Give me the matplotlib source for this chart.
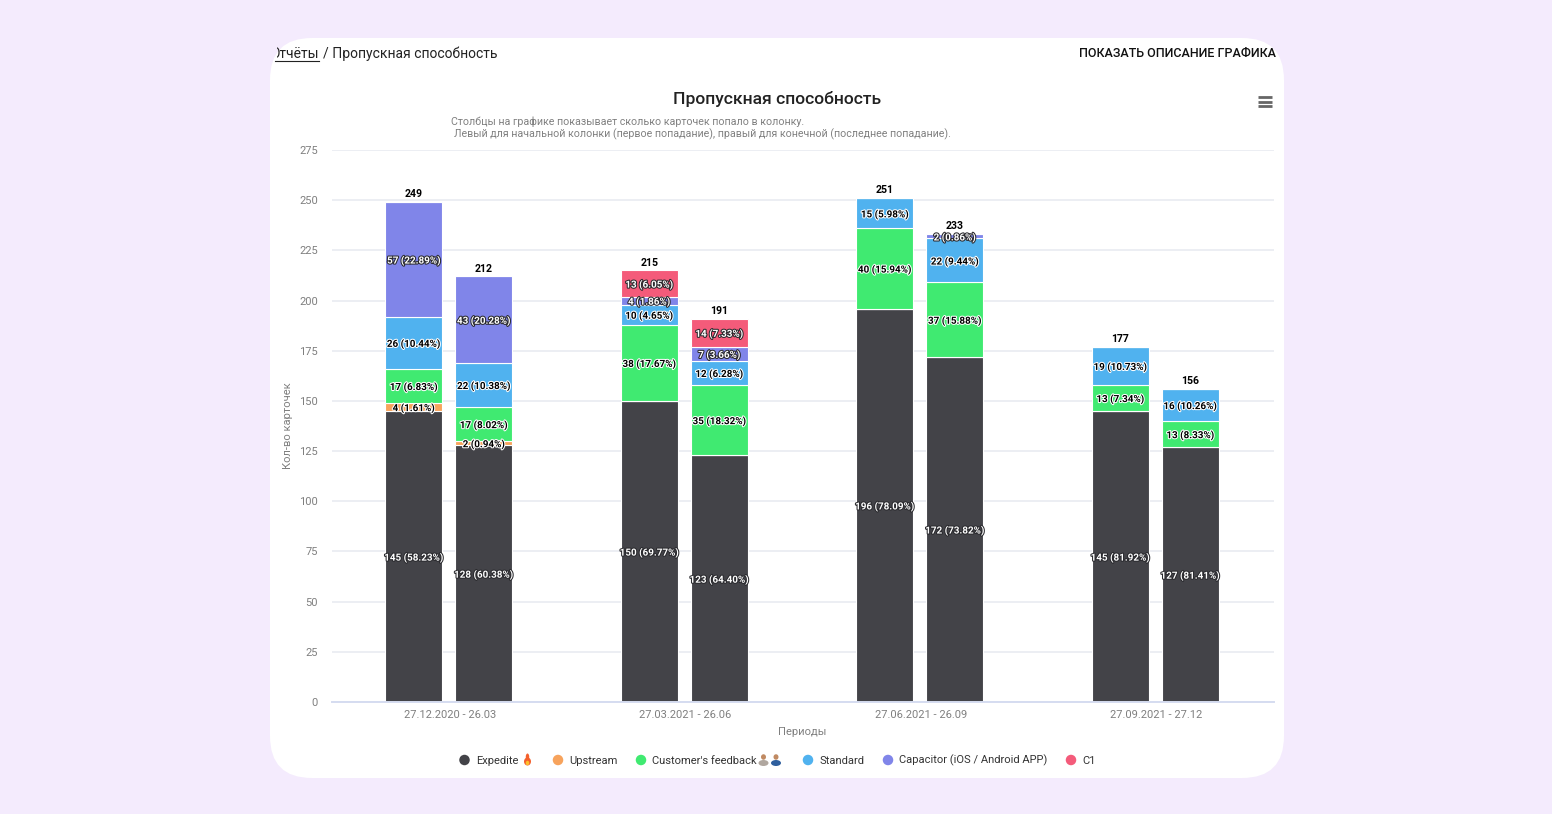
import numpy as np
import matplotlib
matplotlib.use("Agg")
import matplotlib.pyplot as plt
import matplotlib.patheffects as pe
from matplotlib.patches import FancyBboxPatch, Rectangle, Ellipse

plt.rcParams['font.family'] = ['Roboto', 'DejaVu Sans']

periods = ["27.12.2020 - 26.03", "27.03.2021 - 26.06", "27.06.2021 - 26.09", "27.09.2021 - 27.12"]
# two columns per period: left = first hit, right = last hit
expedite = [145, 128, 150, 123, 196, 172, 145, 127]
upstream = [4, 2, 0, 0, 0, 0, 0, 0]
feedback = [17, 17, 38, 35, 40, 37, 13, 13]
standard = [26, 22, 10, 12, 15, 22, 19, 16]
capacitor = [57, 43, 4, 7, 0, 2, 0, 0]
c1 = [0, 0, 13, 14, 0, 0, 0, 0]
y_ticks = [0, 25, 50, 75, 100, 125, 150, 175, 200, 225, 250, 275]

series = [expedite, upstream, feedback, standard, capacitor, c1]
colors = ["#434348", "#f7a35c", "#40ea71", "#50b2ef", "#8085e9", "#f45b7a"]
names = ["Expedite", "Upstream", "Customer's feedback", "Standard", "Capacitor (iOS / Android APP)", "C1"]
light_text = ["#434348", "#8085e9", "#f45b7a"]  # these get white labels

W, H = 1552, 814
fig = plt.figure(figsize=(W / 100, H / 100), dpi=100, facecolor="#f4ebfd")

# overlay in pixel coordinates for the card and page furniture
bg = fig.add_axes([0, 0, 1, 1])
bg.set_xlim(0, W)
bg.set_ylim(H, 0)
bg.axis("off")
bg.add_patch(FancyBboxPatch((310, 78), 934, 660, boxstyle="round,pad=40,rounding_size=42",
                            fc="white", ec="none", zorder=0))

clip = Rectangle((277, 30), 300, 50, transform=bg.transData)
crumb = bg.text(319, 54, "Отчёты", ha="right", va="center", fontsize=10, color="#222222",
                clip_on=True)
crumb.set_clip_path(clip)
bg.plot([275, 319], [60.5, 60.5], color="#222222", lw=0.8)
bg.text(323, 54, "/ Пропускная способность", ha="left", va="center", fontsize=10, color="#222222")
bg.text(1276, 53.5, "ПОКАЗАТЬ ОПИСАНИЕ ГРАФИКА", ha="right", va="center", fontsize=9.0,
        fontweight="medium", color="#111111")
bg.text(777, 99, "Пропускная способность", ha="center", va="center", fontsize=12.6,
        fontweight="medium", color="#222222")
bg.text(451, 121.5, "Столбцы на графике показывает сколько карточек попало в колонку.", ha="left",
        va="center", fontsize=7.7, color="#808080")
bg.text(454, 134, "Левый для начальной колонки (первое попадание), правый для конечной (последнее попадание).",
        ha="left", va="center", fontsize=7.7, color="#808080")
for yy in [97, 101.5, 106]:
    bg.plot([1257.5, 1271.5], [yy, yy], color="#666666", lw=2, solid_capstyle="butt")

# main plot
ax = fig.add_axes([332 / W, 1 - 702 / H, (1274 - 332) / W, (702 - 150) / H])
ax.patch.set_alpha(0)
group = np.repeat(np.arange(len(periods)), 2)
offset = np.tile([-35 / 235.5, 35 / 235.5], len(periods))
xpos = group + offset - 0.004
width = 57 / 235.5
totals = np.sum(series, axis=0)
bottom = np.zeros(len(xpos))
for vals, col in zip(series, colors):
    vals = np.array(vals)
    ax.bar(xpos, vals, width, bottom=bottom, color=col, edgecolor="white", linewidth=0.8, zorder=2)
    is_light = col in light_text
    for x, b, v, t in zip(xpos, bottom, vals, totals):
        if v > 0:
            ax.text(x, b + v / 2 - 0.5, f"{v} ({v / t * 100:.2f}%)", ha="center", va="center", fontsize=7.1,
                    fontweight="bold", color="white" if is_light else "black", zorder=4,
                    path_effects=[pe.withStroke(linewidth=1.5, foreground="#2a2a2e" if is_light else "white")])
    bottom = bottom + vals
for x, t in zip(xpos, totals):
    ax.text(x, t + 3.9, str(t), ha="center", va="center", fontsize=7.6, fontweight="bold", color="black")

ax.set_xlim(-0.5, 3.5)
ax.set_ylim(0, 275)
ax.set_xticks(range(len(periods)), periods)
ax.set_yticks(y_ticks)
ax.tick_params(axis="both", length=0, labelsize=8, labelcolor="#7f7f7f")
ax.tick_params(axis="x", pad=6)
ax.tick_params(axis="y", pad=10)
ax.grid(axis="y", color="#ebedf2", lw=1.3, zorder=1)
ax.set_axisbelow(True)
for s in ["top", "right", "left"]:
    ax.spines[s].set_visible(False)
ax.spines["bottom"].set_color("#d5dcf0")
ax.spines["bottom"].set_linewidth(1.4)

bg.text(802.5, 732, "Периоды", ha="center", va="center", fontsize=8, color="#7f7f7f")
bg.text(288, 426, "Кол-во карточек", ha="center", va="center", rotation=90, fontsize=8, color="#7f7f7f")

# legend
marker_x = [464.5, 558, 641, 808, 888, 1071]
label_x = [476, 569, 652, 819, 899, 1082]
for mx, lx, col, name in zip(marker_x, label_x, colors, names):
    bg.add_patch(Ellipse((mx, 760), 10.5, 10.5, fc=col, ec="none"))
    bg.text(lx, 760.5, name, ha="left", va="center", fontsize=8, color="#333333")

# emoji look-alikes, no emoji font available
bg.add_patch(Ellipse((527.5, 761.5), 7, 8, fc="#f4602c", ec="none"))
bg.add_patch(Ellipse((527.5, 757), 3.5, 7, fc="#f4602c", ec="none"))
bg.add_patch(Ellipse((527.5, 763), 3.5, 4.5, fc="#fbc02d", ec="none"))
for cx, body in [(763.5, "#b0a79f"), (776, "#2f5f9e")]:
    bg.add_patch(Ellipse((cx, 757), 5, 5.5, fc="#c08a62", ec="none"))
    bg.add_patch(Ellipse((cx, 763), 10, 6, fc=body, ec="none"))

fig.savefig("out.png", dpi=100, facecolor=fig.get_facecolor())
